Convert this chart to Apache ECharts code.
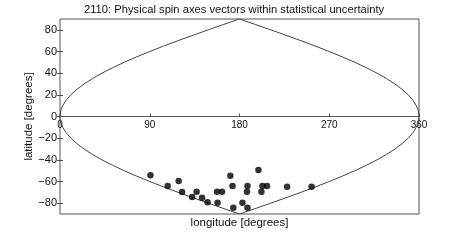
<!DOCTYPE html>
<html>
<head>
<meta charset="utf-8">
<script src="https://cdn.jsdelivr.net/npm/echarts@6/dist/echarts.min.js"></script>
<style>html,body{margin:0;padding:0;background:#fff}#c{width:463px;height:241px}</style>
</head>
<body>
<div id="c"></div>
<script>
// Spin-axis solutions (longitude, latitude)
var pointLon = [90.7, 108, 119, 122.4, 132.5, 137, 142.5, 148, 157.5, 162.5, 158, 170.8, 173, 173.8, 183, 188, 187.5, 188, 199, 203, 202, 207.6, 227.7, 252.3];
var pointLat = [-54.3, -64.2, -59.6, -69.7, -74.3, -69.4, -75, -79.2, -69.4, -69.4, -79.6, -54.6, -64.2, -84.2, -79.6, -64.2, -69.4, -84.2, -49.4, -64.2, -69.4, -64.2, -64.8, -64.8];

// Outline curve (upper half and lower half share longitudes)
var boundaryLon = [0, 0.03, 0.1, 0.25, 0.7, 1.3, 2.7, 6.1, 10.9, 16.9, 24.1, 32.6, 42.1, 52.7, 64.3, 76.8, 90, 103.9, 118.4, 133.4, 148.7, 164.3, 180,
  195.7, 211.3, 226.6, 241.6, 256.1, 270, 283.2, 295.7, 307.3, 317.9, 327.4, 335.9, 343.1, 349.1, 353.9, 357.3, 358.7, 359.3, 359.75, 359.9, 359.97, 360];
var boundaryUpperLat = [0, 1, 2, 3, 5, 7, 10, 15, 20, 25, 30, 35, 40, 45, 50, 55, 60, 65, 70, 75, 80, 85, 90,
  85, 80, 75, 70, 65, 60, 55, 50, 45, 40, 35, 30, 25, 20, 15, 10, 7, 5, 3, 2, 1, 0];
var boundaryLowerLat = [0, -1, -2, -3, -5, -7, -10, -15, -20, -25, -30, -35, -40, -45, -50, -55, -60, -65, -70, -75, -80, -85, -90,
  -85, -80, -75, -70, -65, -60, -55, -50, -45, -40, -35, -30, -25, -20, -15, -10, -7, -5, -3, -2, -1, 0];

var xTicks = [0, 90, 180, 270, 360];
var yTicks = [-80, -60, -40, -20, 0, 20, 40, 60, 80];

var titleText = '2110: Physical spin axes vectors within statistical uncertainty';
var xName = 'longitude [degrees]';
var yName = 'latitude [degrees]';

var font = '"Liberation Sans", Arial, Helvetica, sans-serif';
var gray = '#555';

function pairs(xs, ys) { return xs.map(function (x, i) { return [x, ys[i]]; }); }

var chart = echarts.init(document.getElementById('c'), null, { renderer: 'canvas' });
chart.setOption({
  animation: false,
  backgroundColor: '#fff',
  title: {
    text: titleText, left: 84, top: 4, padding: 0,
    textStyle: { fontFamily: font, fontSize: 11.2, fontWeight: 'normal', color: '#111' }
  },
  grid: {
    left: 60, right: 44, top: 19, bottom: 27,
    show: true, borderColor: gray, borderWidth: 1, backgroundColor: '#fff'
  },
  xAxis: [
    {
      type: 'value', min: 0, max: 360, interval: 90, position: 'bottom', offset: -97.5,
      axisLine: { show: true, onZero: false, lineStyle: { color: gray, width: 1 } },
      axisTick: { show: true, inside: true, length: 3, lineStyle: { color: gray } },
      axisLabel: { margin: 4, fontFamily: font, fontSize: 10, color: '#111' },
      splitLine: { show: false }
    },
    {
      type: 'value', min: 0, max: 360, position: 'bottom',
      axisLine: { show: false, onZero: false },
      axisTick: { show: false }, axisLabel: { show: false }, splitLine: { show: false },
      name: xName, nameLocation: 'middle', nameGap: 3, nameMoveOverlap: false,
      nameTextStyle: { fontFamily: font, fontSize: 11.5, color: '#111' }
    }
  ],
  yAxis: [
    {
      type: 'value', min: -90, max: 90, position: 'left',
      axisLine: { show: false },
      axisTick: { show: true, inside: true, length: 3, customValues: yTicks, lineStyle: { color: gray } },
      axisLabel: { margin: 3, fontFamily: font, fontSize: 11, color: '#111', customValues: yTicks,
        formatter: function (v) { return String(v).replace('-', '\u2212'); } },
      splitLine: { show: false },
      name: yName, nameLocation: 'middle', nameGap: 25, nameMoveOverlap: false,
      nameTextStyle: { fontFamily: font, fontSize: 11.5, color: '#111' }
    },
    {
      type: 'value', min: -90, max: 90, position: 'right',
      axisLine: { show: false },
      axisTick: { show: true, inside: true, length: 3, customValues: yTicks, lineStyle: { color: gray } },
      axisLabel: { show: false },
      splitLine: { show: false }
    }
  ],
  series: [
    {
      type: 'line', xAxisIndex: 0, yAxisIndex: 0, data: pairs(boundaryLon, boundaryUpperLat),
      showSymbol: false, silent: true, lineStyle: { color: '#444', width: 1 }, z: 2
    },
    {
      type: 'line', xAxisIndex: 0, yAxisIndex: 0, data: pairs(boundaryLon, boundaryLowerLat),
      showSymbol: false, silent: true, lineStyle: { color: '#444', width: 1 }, z: 2
    },
    {
      type: 'scatter', xAxisIndex: 0, yAxisIndex: 0, data: pairs(pointLon, pointLat),
      symbol: 'circle', symbolSize: 6.5, itemStyle: { color: '#000' }, z: 3
    }
  ]
});
</script>
</body>
</html>
